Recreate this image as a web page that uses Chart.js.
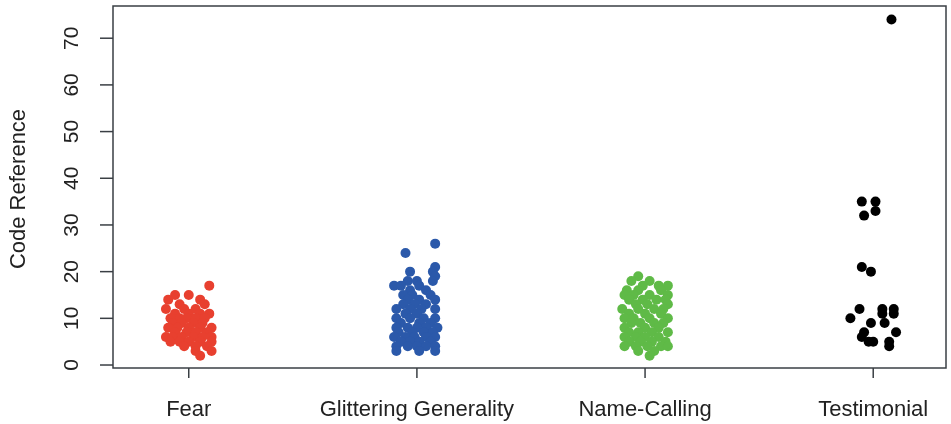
<!DOCTYPE html>
<html>
<head>
<meta charset="utf-8">
<script src="https://cdn.jsdelivr.net/npm/chart.js@4.4.1/dist/chart.umd.min.js"></script>
<style>
  html, body { margin: 0; padding: 0; background: #fff; }
  canvas { display: block; }
</style>
</head>
<body>
<canvas id="strip" width="951" height="424"></canvas>
<script>
const categories = ['Fear', 'Glittering Generality', 'Name-Calling', 'Testimonial'];
const yTicks = [0, 10, 20, 30, 40, 50, 60, 70];

// code reference counts per technique, with the horizontal jitter of each point
const fearValues = [17, 15, 15, 14, 14, 13, 13, 12, 12, 12, 11, 11, 11, 11, 10, 10, 10, 10, 10,
    9, 9, 9, 9, 8, 8, 8, 8, 8, 7, 7, 7, 7, 6, 6, 6, 6, 6, 6, 5, 5, 5, 5, 5, 4, 4, 4, 3, 3, 2];
const fearJitter = [0.09, -0.06, 0.00, -0.09, 0.05, -0.04, 0.07, -0.10, -0.02, 0.03, -0.06, 0.00, 0.05, 0.09,
    -0.08, -0.04, -0.01, 0.03, 0.07, -0.07, -0.03, 0.02, 0.06, -0.09, -0.05, 0.00, 0.05, 0.10,
    -0.06, -0.01, 0.03, 0.08, -0.10, -0.07, -0.03, 0.02, 0.06, 0.10, -0.08, -0.04, 0.00, 0.05, 0.10,
    -0.02, 0.03, 0.08, 0.03, 0.10, 0.05];

const glitterValues = [26, 24, 21, 20, 20, 19, 18, 18, 18, 17, 17, 17, 16, 16, 15, 15, 15, 14, 14, 14,
    13, 13, 13, 12, 12, 12, 12, 11, 11, 10, 10, 10, 10, 9, 9, 9, 8, 8, 8, 8, 8, 7, 7, 7, 7,
    6, 6, 6, 6, 6, 5, 5, 5, 5, 4, 4, 4, 4, 4, 3, 3, 3];
const glitterJitter = [0.08, -0.05, 0.08, -0.03, 0.07, 0.08, -0.04, 0.00, 0.07, -0.10, -0.07, 0.01, -0.03, 0.04,
    -0.06, -0.02, 0.06, -0.04, 0.01, 0.08, -0.06, -0.01, 0.04, -0.09, -0.03, 0.02, 0.08, -0.05, 0.00,
    -0.09, -0.03, 0.03, 0.08, -0.07, 0.01, 0.06, -0.09, -0.04, 0.00, 0.04, 0.09, -0.08, -0.02, 0.03, 0.07,
    -0.10, -0.05, -0.01, 0.04, 0.08, -0.07, -0.03, 0.01, 0.06, -0.09, -0.04, 0.00, 0.04, 0.08,
    -0.09, 0.01, 0.08];

const nameValues = [19, 18, 18, 17, 17, 17, 16, 16, 16, 15, 15, 15, 15, 14, 14, 14, 14, 13, 13, 13,
    12, 12, 12, 12, 11, 11, 11, 10, 10, 10, 10, 9, 9, 9, 9, 8, 8, 8, 7, 7, 7, 7,
    6, 6, 6, 6, 5, 5, 5, 5, 4, 4, 4, 4, 4, 3, 3, 2];
const nameJitter = [-0.03, -0.06, 0.02, -0.01, 0.06, 0.10, -0.08, -0.03, 0.07, -0.09, -0.05, 0.02, 0.10,
    -0.07, -0.01, 0.05, 0.09, -0.04, 0.01, 0.10, -0.10, -0.03, 0.04, 0.08, -0.07, 0.00, 0.07,
    -0.09, -0.05, 0.02, 0.10, -0.06, -0.02, 0.04, 0.08, -0.09, 0.00, 0.06, -0.07, -0.03, 0.03, 0.10,
    -0.09, -0.04, 0.00, 0.06, -0.07, -0.02, 0.03, 0.09, -0.09, -0.04, 0.01, 0.07, 0.10,
    -0.03, 0.04, 0.02];

const testimonialValues = [74, 35, 35, 33, 32, 21, 20, 12, 12, 12, 11, 11, 10, 9, 9, 7, 7, 6, 5, 5, 5, 4];
const testimonialJitter = [0.08, -0.05, 0.01, 0.01, -0.04, -0.05, -0.01, -0.06, 0.04, 0.09, 0.04, 0.09,
    -0.10, -0.01, 0.05, -0.04, 0.10, -0.05, -0.02, 0.00, 0.07, 0.07];

const colors = ['#e8402f', '#2b59aa', '#5fba47', '#000000'];

function strip(position, values, jitter) {
    return values.map((v, i) => ({ x: position + jitter[i], y: v }));
}

const groups = [
    strip(1, fearValues, fearJitter),
    strip(2, glitterValues, glitterJitter),
    strip(3, nameValues, nameJitter),
    strip(4, testimonialValues, testimonialJitter)
];

const textColor = '#222';
const lineColor = '#3a3f44';
const font = '21px "Liberation Sans", Arial, sans-serif';

// R-style frame, ticks and labels drawn from the chart's own scales
const baseAxes = {
    id: 'baseAxes',
    afterDraw(chart) {
        const ctx = chart.ctx;
        const area = chart.chartArea;
        const xs = chart.scales.x;
        const ys = chart.scales.y;
        ctx.save();
        ctx.strokeStyle = lineColor;
        ctx.lineWidth = 1.5;
        ctx.strokeRect(area.left, area.top, area.right - area.left, area.bottom - area.top);

        ctx.fillStyle = textColor;
        ctx.font = font;

        // y axis
        yTicks.forEach(t => {
            const py = ys.getPixelForValue(t);
            ctx.beginPath();
            ctx.moveTo(area.left - 13, py);
            ctx.lineTo(area.left, py);
            ctx.stroke();
            ctx.save();
            ctx.translate(area.left - 41, py);
            ctx.rotate(-Math.PI / 2);
            ctx.textAlign = 'center';
            ctx.textBaseline = 'middle';
            ctx.fillText(String(t), 0, 0);
            ctx.restore();
        });

        ctx.save();
        ctx.translate(19, (area.top + area.bottom) / 2 + 2);
        ctx.rotate(-Math.PI / 2);
        ctx.textAlign = 'center';
        ctx.textBaseline = 'middle';
        ctx.font = '22px "Liberation Sans", Arial, sans-serif';
        ctx.fillText('Code Reference', 0, 0);
        ctx.restore();

        // x axis
        ctx.font = '22px "Liberation Sans", Arial, sans-serif';
        categories.forEach((name, i) => {
            const px = xs.getPixelForValue(i + 1);
            ctx.beginPath();
            ctx.moveTo(px, area.bottom);
            ctx.lineTo(px, area.bottom + 10);
            ctx.stroke();
            ctx.textAlign = 'center';
            ctx.textBaseline = 'middle';
            ctx.fillText(name, px, 410);
        });
        ctx.restore();
    }
};

new Chart(document.getElementById('strip'), {
    type: 'scatter',
    data: {
        datasets: groups.map((pts, i) => ({
            label: categories[i],
            data: pts,
            backgroundColor: colors[i],
            borderWidth: 0,
            pointRadius: 5,
            pointHoverRadius: 5
        }))
    },
    options: {
        responsive: false,
        animation: false,
        devicePixelRatio: 1,
        layout: { padding: { left: 113, top: 6, right: 1, bottom: 56 } },
        scales: {
            x: { type: 'linear', display: false, min: 0.668, max: 4.319 },
            y: { type: 'linear', display: false, min: -0.64, max: 76.9 }
        },
        plugins: {
            legend: { display: false },
            tooltip: { enabled: false }
        }
    },
    plugins: [baseAxes]
});
</script>
</body>
</html>
